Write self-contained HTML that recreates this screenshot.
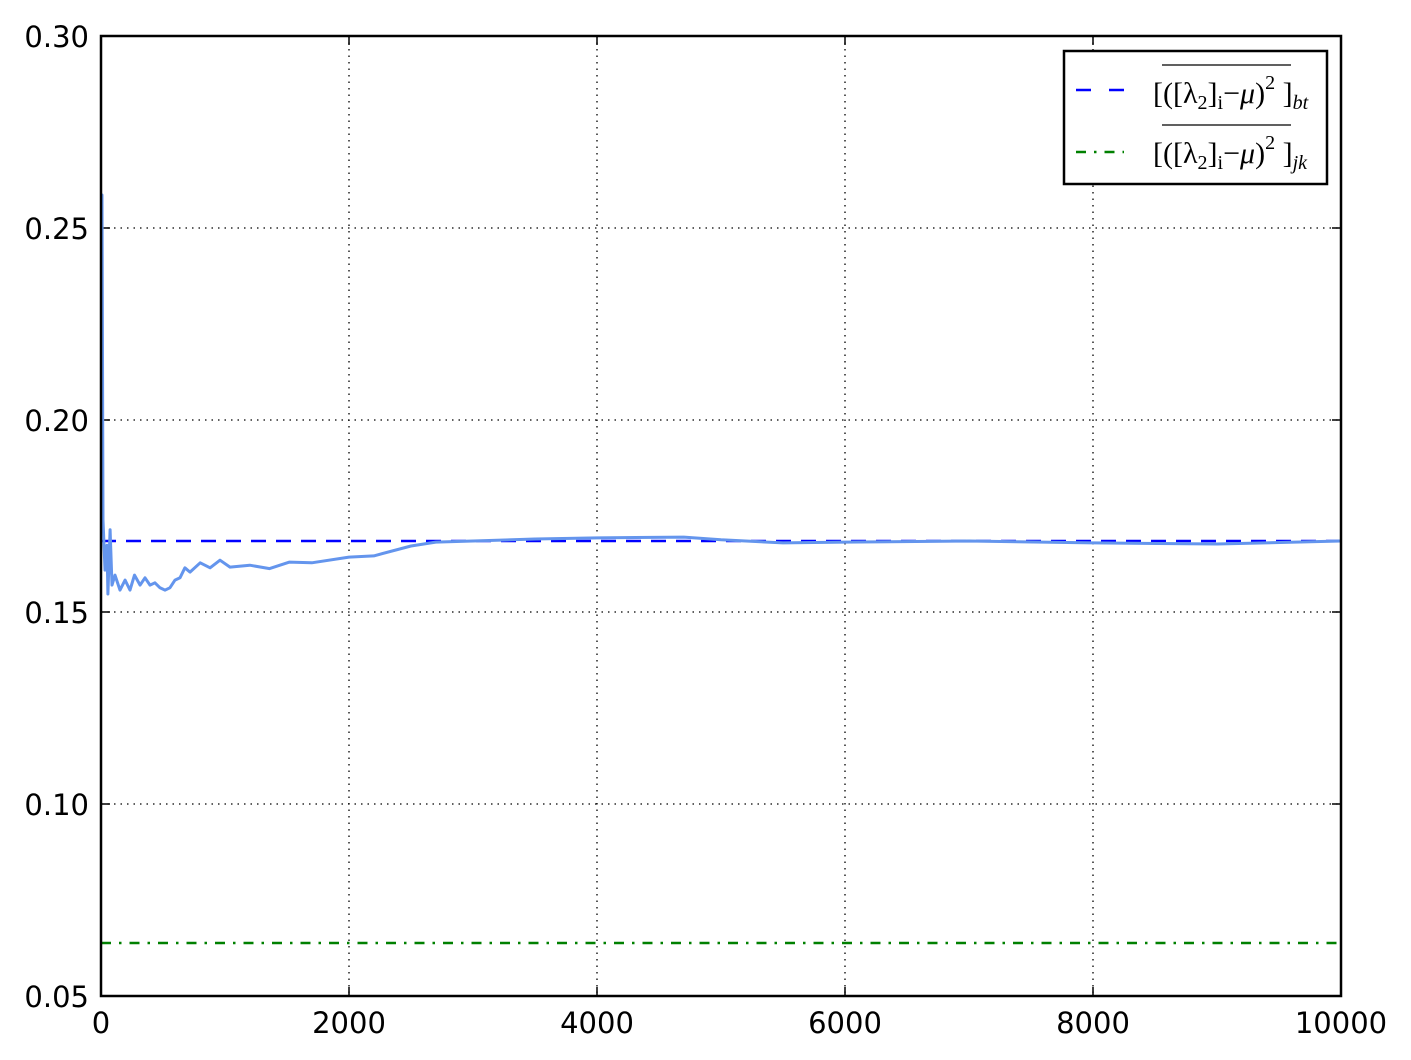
<!DOCTYPE html>
<html><head><meta charset="utf-8"><style>
body{margin:0;background:#fff;}
svg{display:block;font-family:"DejaVu Sans","Liberation Sans",sans-serif;}
</style></head><body>
<svg id="chart" width="1411" height="1060"></svg>
<script>
const xTicks=[0,2000,4000,6000,8000,10000];
const yTicks=[0.05,0.10,0.15,0.20,0.25,0.30];
const yTickLabels=["0.05","0.10","0.15","0.20","0.25","0.30"];
const seriesX=[0,8,16,32,48,56,73,89,113,153,194,234,270,315,355,395,435,476,516,556,597,637,677,718,800,880,960,1040,1200,1360,1520,1700,2000,2200,2500,2700,3000,3500,4000,4700,5000,5500,6000,7000,8000,9000,10000];
const seriesY=[0.2586,0.2586,0.1740,0.1609,0.1674,0.1547,0.1714,0.1570,0.1596,0.1557,0.1583,0.1557,0.1596,0.1570,0.1589,0.1570,0.1576,0.1563,0.1557,0.1563,0.1583,0.1589,0.1615,0.1604,0.1628,0.1615,0.1635,0.1617,0.1622,0.1613,0.1630,0.1628,0.1643,0.1646,0.1672,0.1682,0.1685,0.1690,0.1693,0.1695,0.1688,0.1680,0.1682,0.1685,0.1680,0.1677,0.1685];
const btValue=0.1685;
const jkValue=0.0638;
const L=101,R=1341,T=36,B=996;
const sx=v=>L+(v-0)/(10000)*(R-L);
const sy=v=>B-(v-0.05)/(0.25)*(B-T);
const svg=document.getElementById('chart');
const NS='http://www.w3.org/2000/svg';
function mk(tag,attrs,parent){const e=document.createElementNS(NS,tag);for(const k in attrs)e.setAttribute(k,attrs[k]);(parent||svg).appendChild(e);return e;}
xTicks.forEach((t,i)=>{
  const g=mk('line',{x1:sx(t),x2:sx(t),y1:T,y2:B,stroke:'#000','stroke-width':1.3,'stroke-dasharray':'1.5,5'});
  
  
  const tk=mk('line',{x1:sx(t),x2:sx(t),y1:B,y2:B-9,stroke:'#000','stroke-width':1.5});
  
  
  const tk2=mk('line',{x1:sx(t),x2:sx(t),y1:T,y2:T+9,stroke:'#000','stroke-width':1.5});
  
  
  const lb=mk('text',{x:sx(t),y:1033,'text-anchor':'middle','font-size':29});
  lb.textContent=String(t);
  
  
});
yTicks.forEach((t,i)=>{
  const g=mk('line',{x1:L,x2:R,y1:sy(t),y2:sy(t),stroke:'#000','stroke-width':1.3,'stroke-dasharray':'1.5,5'});
  
  
  const tk=mk('line',{x1:L,x2:L+9,y1:sy(t),y2:sy(t),stroke:'#000','stroke-width':1.5});
  
  
  const tk2=mk('line',{x1:R,x2:R-9,y1:sy(t),y2:sy(t),stroke:'#000','stroke-width':1.5});
  
  
  const lb=mk('text',{x:89,y:sy(t)+11,'text-anchor':'end','font-size':29});
  lb.textContent=yTickLabels[i];
  
  
});
const ref1=mk('line',{x1:sx(0),x2:sx(10000),y1:sy(btValue),y2:sy(btValue),stroke:'#0000ff','stroke-width':2.5,'stroke-dasharray':'15,10'});


const ref2=mk('line',{x1:sx(0),x2:sx(10000),y1:sy(jkValue),y2:sy(jkValue),stroke:'#008000','stroke-width':2.5,'stroke-dasharray':'10,8,2.5,8'});


const pts=seriesX.map((x,i)=>sx(x).toFixed(1)+','+sy(seriesY[i]).toFixed(1)).join(' ');
const pl=mk('polyline',{points:pts,fill:'none',stroke:'#6495ed','stroke-width':3,'stroke-linejoin':'round'});


const fr=mk('rect',{x:L,y:T,width:R-L,height:B-T,fill:'none',stroke:'#000','stroke-width':2.5});


const lg=mk('g',{});


mk('rect',{x:1064,y:51,width:263,height:133,fill:'#fff',stroke:'#000','stroke-width':2.5},lg);
mk('line',{x1:1076,x2:1128,y1:90,y2:90,stroke:'#0000ff','stroke-width':2.5,'stroke-dasharray':'15,18'},lg);
mk('line',{x1:1076,x2:1124,y1:152,y2:152,stroke:'#008000','stroke-width':2.5,'stroke-dasharray':'10,8,2.5,8'},lg);
mk('line',{x1:1162,x2:1291,y1:65,y2:65,stroke:'#000','stroke-width':1.3},lg);
mk('line',{x1:1162,x2:1291,y1:125,y2:125,stroke:'#000','stroke-width':1.3},lg);
const body='[(<tspan>[λ</tspan><tspan font-size="20" dy="6">2</tspan><tspan dy="-6">]</tspan><tspan font-size="20" dy="6">i</tspan><tspan dy="-6">−</tspan><tspan font-style="italic">μ</tspan>)<tspan font-size="20" dy="-14">2</tspan><tspan dy="14"> ]</tspan>';
const t1=mk('text',{x:1153,y:103,'font-size':30,'font-family':'"Liberation Serif",serif'},lg);
t1.innerHTML=body+'<tspan font-size="20" font-style="italic" dy="6">bt</tspan>';


const t2=mk('text',{x:1153,y:163,'font-size':30,'font-family':'"Liberation Serif",serif'},lg);
t2.innerHTML=body+'<tspan font-size="20" font-style="italic" dy="6">jk</tspan>';


</script>
</body></html>
